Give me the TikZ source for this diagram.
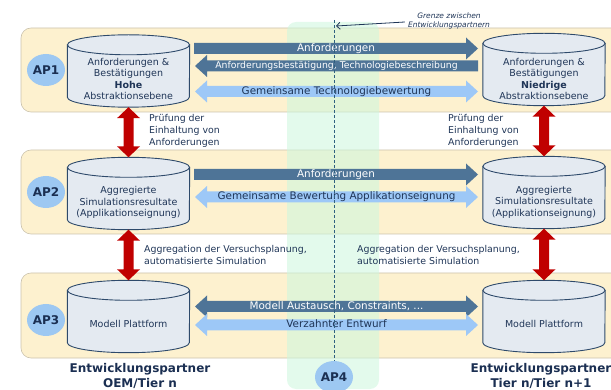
\documentclass[tikz,border=0pt]{standalone}
\usepackage{fontspec}
\setmainfont{DejaVu Sans}
\usetikzlibrary{arrows.meta,calc,shapes.geometric}
\definecolor{bandfill}{HTML}{FDF1CF}
\definecolor{bandline}{HTML}{CBC3AE}
\definecolor{colgreen}{RGB}{205,247,222}
\definecolor{cylfill}{HTML}{E4EAF1}
\definecolor{cylline}{HTML}{2E4A6B}
\definecolor{darkarrow}{HTML}{4E7497}
\definecolor{lightarrow}{HTML}{9DC8F7}
\definecolor{apfill}{HTML}{9DC8F2}
\definecolor{navy}{HTML}{1B2F52}
\definecolor{txt}{HTML}{1F3557}
\definecolor{redarrow}{HTML}{C00000}
\definecolor{dashcol}{HTML}{2F5F7F}

\def\BAbody{5.5pt}
\def\BAhead{11pt}
\def\BAlen{12pt}

\newcommand\drawcyl[1]{%
  \path[cylstyle] let \p1=(#1.north west), \p2=(#1.south east) in
    (\x1,\y1-10pt) -- (\x1,\y2+10pt)
    arc[start angle=180,end angle=360,x radius=61pt,y radius=10pt]
    -- (\x2,\y1-10pt) -- cycle;
  \path[cylstyle] let \p1=(#1.north) in
    (\x1,\y1-10pt) ellipse[x radius=61pt,y radius=10pt];
}
\newcommand\arrowRight[3]{%
  \path[#1] let \p1=(#2), \p2=(#3) in
    (\x1,\y1+\BAbody) -- (\x2-\BAlen,\y1+\BAbody) -- (\x2-\BAlen,\y1+\BAhead)
    -- (\x2,\y1) -- (\x2-\BAlen,\y1-\BAhead) -- (\x2-\BAlen,\y1-\BAbody)
    -- (\x1,\y1-\BAbody) -- cycle;
}
\newcommand\arrowLeft[3]{%
  \path[#1] let \p1=(#2), \p2=(#3) in
    (\x1,\y1) -- (\x1+\BAlen,\y1+\BAhead) -- (\x1+\BAlen,\y1+\BAbody)
    -- (\x2,\y1+\BAbody) -- (\x2,\y1-\BAbody) -- (\x1+\BAlen,\y1-\BAbody)
    -- (\x1+\BAlen,\y1-\BAhead) -- cycle;
}
\newcommand\arrowBoth[3]{%
  \path[#1] let \p1=(#2), \p2=(#3) in
    (\x1,\y1) -- (\x1+\BAlen,\y1+\BAhead) -- (\x1+\BAlen,\y1+\BAbody)
    -- (\x2-\BAlen,\y1+\BAbody) -- (\x2-\BAlen,\y1+\BAhead) -- (\x2,\y1)
    -- (\x2-\BAlen,\y1-\BAhead) -- (\x2-\BAlen,\y1-\BAbody)
    -- (\x1+\BAlen,\y1-\BAbody) -- (\x1+\BAlen,\y1-\BAhead) -- cycle;
}
\newcommand\arrowVert[3]{%
  \path[#1] let \p1=(#2), \p2=(#3) in
    (\x1,\y1) -- (\x1+11.5pt,\y1-11pt) -- (\x1+5pt,\y1-11pt)
    -- (\x1+5pt,\y2+11pt) -- (\x1+11.5pt,\y2+11pt) -- (\x1,\y2)
    -- (\x1-11.5pt,\y2+11pt) -- (\x1-5pt,\y2+11pt)
    -- (\x1-5pt,\y1-11pt) -- (\x1-11.5pt,\y1-11pt) -- cycle;
}

\tikzset{
  cylbox/.style={minimum width=122pt, minimum height=72pt, inner sep=0pt, draw=none},
  cylstyle/.style={fill=cylfill, draw=cylline, line width=0.9pt},
  cyltext/.style={align=center, text=txt, inner sep=0pt, font=\fontsize{9.5pt}{11.5pt}\selectfont},
  bandbox/.style={fill=bandfill, draw=bandline, line width=0.6pt, rounded corners=10pt},
  aplabel/.style={ellipse, fill=apfill, minimum width=38pt, minimum height=32pt, inner sep=0pt,
    text=navy, font=\bfseries\fontsize{12pt}{14pt}\selectfont},
  darkarr/.style={fill=darkarrow},
  lightarr/.style={fill=lightarrow},
  redarr/.style={fill=redarrow},
  ondark/.style={text=white, inner sep=0pt, text height=7.4pt, text depth=2.2pt,
    font=\fontsize{10.4pt}{12pt}\selectfont},
  onlight/.style={ondark, text=txt},
  side/.style={align=left, anchor=west, text=txt, inner sep=0pt, font=\fontsize{9.4pt}{12pt}\selectfont},
  partner/.style={align=center, text=navy, inner sep=0pt, font=\bfseries\fontsize{12pt}{14.5pt}\selectfont},
  grenze/.style={align=center, text=txt, inner sep=0pt, font=\itshape\fontsize{7.5pt}{9pt}\selectfont},
  conn/.style={draw=txt, line width=0.8pt, -{Straight Barb[length=3.5pt,width=7pt]}},
  dashline/.style={draw=dashcol, line width=0.8pt, dash pattern=on 3pt off 2pt},
}

\begin{document}
\begin{tikzpicture}[x=1pt,y=-1pt]
\useasboundingbox (0,0) rectangle (611,390);
\clip (0,0) rectangle (611,390);

% bands
\path[bandbox] (21,28) rectangle (630,112);
\path[bandbox] (21,150) rectangle (630,234);
\path[bandbox] (21,273) rectangle (630,358);

% AP4 column
\path[fill=colgreen, fill opacity=0.57, rounded corners=9pt] (287,22) rectangle (379,389);

% cylinders
\node[cylbox] (c1L) at (128.5,71) {};
\node[cylbox] (c1R) at (544,69.5) {};
\node[cylbox] (c2L) at (128.5,193.5) {};
\node[cylbox] (c2R) at (544,192.5) {};
\node[cylbox] (c3L) at (128.5,316.5) {};
\node[cylbox] (c3R) at (544,316.5) {};
\drawcyl{c1L}
\drawcyl{c1R}
\drawcyl{c2L}
\drawcyl{c2R}
\drawcyl{c3L}
\drawcyl{c3R}

\node[cyltext] (t1L) at ([yshift=-8pt]c1L.center) {Anforderungen \&\\Bestätigungen\\\textbf{Hohe}\\Abstraktionsebene};
\node[cyltext] (t1R) at ([yshift=-9.5pt]c1R.center) {Anforderungen \&\\Bestätigungen\\\textbf{Niedrige}\\Abstraktionsebene};
\node[cyltext] (t2L) at ([yshift=-9pt]c2L.center) {Aggregierte\\Simulationsresultate\\(Applikationseignung)};
\node[cyltext] (t2R) at ([yshift=-9.5pt]c2R.center) {Aggregierte\\Simulationsresultate\\(Applikationseignung)};
\node[cyltext] (t3L) at ([yshift=-7pt]c3L.center) {Modell Plattform};
\node[cyltext] (t3R) at ([yshift=-7pt]c3R.center) {Modell Plattform};

% AP labels
\node[aplabel] (ap1) at (46,70) {AP1};
\node[aplabel] (ap2) at (46,192) {AP2};
\node[aplabel] (ap3) at (46,320) {AP3};

% horizontal block arrows
\coordinate (r1aS) at (194,48.5);  \coordinate (r1aE) at (478,48.5);
\coordinate (r1bS) at (195,66);    \coordinate (r1bE) at (478,66);
\coordinate (r1cS) at (195,91.5);  \coordinate (r1cE) at (478,91.5);
\coordinate (r2aS) at (194,174.5); \coordinate (r2aE) at (478,174.5);
\coordinate (r2bS) at (195,197);   \coordinate (r2bE) at (478,197);
\coordinate (r3aS) at (195,306.5); \coordinate (r3aE) at (478,306.5);
\coordinate (r3bS) at (195,325);   \coordinate (r3bE) at (478,325);

\arrowRight{darkarr}{r1aS}{r1aE}
\arrowLeft{darkarr}{r1bS}{r1bE}
\arrowBoth{lightarr}{r1cS}{r1cE}
\arrowRight{darkarr}{r2aS}{r2aE}
\arrowBoth{lightarr}{r2bS}{r2bE}
\arrowBoth{darkarr}{r3aS}{r3aE}
\arrowBoth{lightarr}{r3bS}{r3bE}

\node[ondark] (l1a) at ($(r1aS)!0.5!(r1aE)$) {Anforderungen};
\node[ondark, font=\fontsize{9.3pt}{11pt}\selectfont] (l1b) at ($(r1bS)!0.5!(r1bE)$) {Anforderungsbestätigung, Technologiebeschreibung};
\node[onlight] (l1c) at ($(r1cS)!0.5!(r1cE)$) {Gemeinsame Technologiebewertung};
\node[ondark] (l2a) at ($(r2aS)!0.5!(r2aE)$) {Anforderungen};
\node[onlight] (l2b) at ($(r2bS)!0.5!(r2bE)$) {Gemeinsame Bewertung Applikationseignung};
\node[ondark] (l3a) at ($(r3aS)!0.5!(r3aE)$) {Modell Austausch, Constraints, ...};
\node[onlight] (l3b) at ($(r3bS)!0.5!(r3bE)$) {Verzahnter Entwurf};

% vertical red arrows
\arrowVert{redarr}{c1L.south}{c2L.north}
\arrowVert{redarr}{c1R.south}{c2R.north}
\arrowVert{redarr}{c2L.south}{c3L.north}
\arrowVert{redarr}{c2R.south}{c3R.north}

% side texts
\node[side] (s1L) at (149,130.5) {Prüfung der\\Einhaltung von\\Anforderungen};
\node[side] (s1R) at (448,130.5) {Prüfung der\\Einhaltung von\\Anforderungen};
\node[side] (s2L) at (144,255) {Aggregation der Versuchsplanung,\\automatisierte Simulation};
\node[side] (s2R) at (357,255) {Aggregation der Versuchsplanung,\\automatisierte Simulation};

% partner labels
\node[partner] (pL) at (140,376) {Entwicklungspartner\\OEM/Tier n};
\node[partner] (pR) at (541,376) {Entwicklungspartner\\Tier n/Tier n+1};

% boundary
\node[aplabel] (ap4) at (334,377) {AP4};
\coordinate (dtop) at (334,20);
\draw[dashline] (dtop) -- (ap4.north);
\node[grenze] (gz) at (449,21) {Grenze zwischen\\Entwicklungspartnern};
\coordinate (gzt) at (336,26);
\draw[conn] ([xshift=-3pt,yshift=-1pt]gz.west) -- (gzt);
\end{tikzpicture}
\end{document}
